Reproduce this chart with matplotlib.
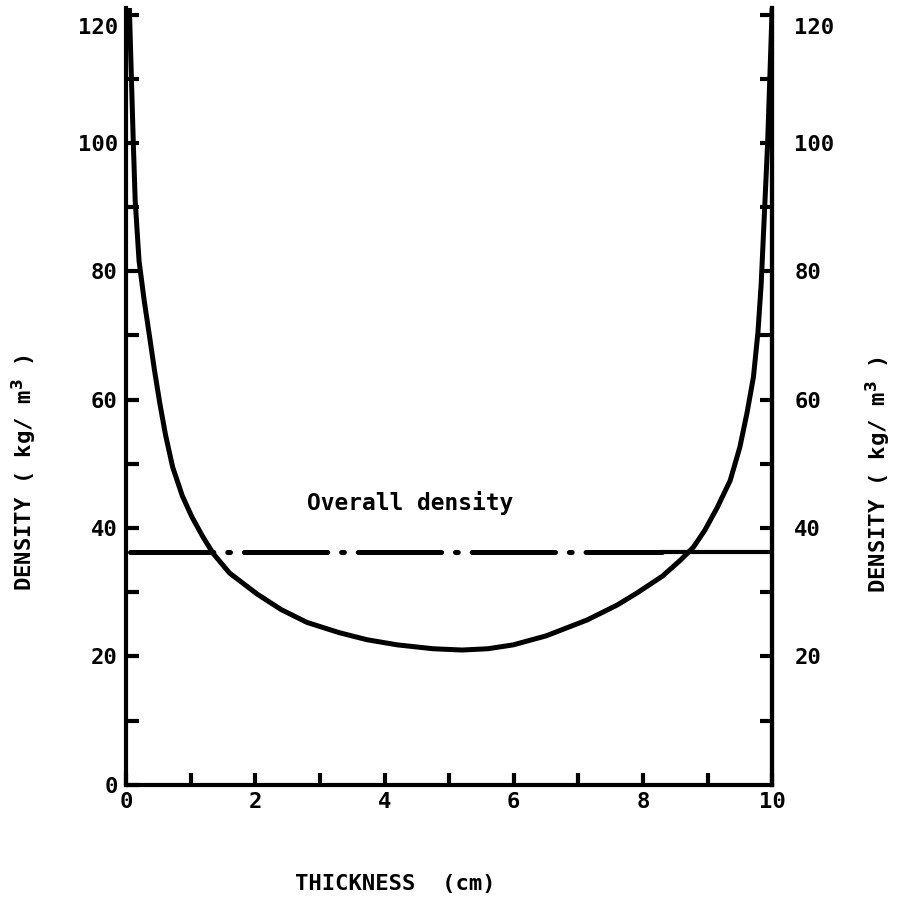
import matplotlib
matplotlib.use('Agg')
import matplotlib.pyplot as plt
import matplotlib.transforms as mtransforms

# density profile
thickness = [0.05, 0.11, 0.14, 0.2, 0.28, 0.36, 0.44, 0.52, 0.61, 0.72, 0.87, 1.02,
             1.19, 1.35, 1.6, 2.03, 2.4, 2.8, 3.3, 3.73, 4.2, 4.75, 5.2, 5.6,
             5.99, 6.5, 7.14, 7.6, 7.91, 8.3, 8.58, 8.78, 8.96, 9.15, 9.35, 9.5,
             9.61, 9.71, 9.78, 9.83, 9.88, 9.93, 10.0]
density = [121, 100.3, 91, 81.6, 75.4, 70.0, 64.5, 59.5, 54.5, 49.5, 45.0, 41.7,
           38.6, 36.0, 33.0, 29.7, 27.3, 25.3, 23.7, 22.6, 21.8, 21.2, 21.0, 21.2,
           21.8, 23.2, 25.7, 28.0, 29.9, 32.5, 35.0, 37.0, 39.7, 43.2, 47.4, 52.6,
           57.9, 63.5, 70.5, 78.0, 89.0, 100.0, 121]
overall = 36.3
overall_break = 8.3   # dash-dot ends here, solid after

xticks = [0, 2, 4, 6, 8, 10]
yticks_left = [0, 20, 40, 60, 80, 100, 120]
yticks_right = [20, 40, 60, 80, 100, 120]

plt.rcParams['font.family'] = ['DejaVu Sans Mono']
plt.rcParams['font.weight'] = 'bold'
plt.rcParams['lines.scale_dashes'] = False

fig = plt.figure(figsize=(9.01, 8.99), dpi=100)
ax = fig.add_axes([0.14, 0.127, 0.717, 0.864])
ax.set_xlim(0, 10)
ax.set_ylim(0, 121)

ax.plot(thickness, density, color='black', lw=3.6, solid_capstyle='round',
        solid_joinstyle='round')
ax.plot([0.06, overall_break], [overall, overall], color='black', lw=3.6,
        dashes=(60, 10, 2, 10), dash_capstyle='round')
ax.plot([overall_break, 10], [overall, overall], color='black', lw=3.0)

ax.text(4.4, 43.9, 'Overall density', ha='center', va='center', fontsize=16.5)

for s in ['left', 'right', 'bottom']:
    ax.spines[s].set_linewidth(3)
ax.spines['top'].set_visible(False)

ax.set_xticks(range(0, 11))
ax.set_xticklabels([str(v) if v in xticks else '' for v in range(0, 11)], fontsize=16)
ax.set_yticks(range(0, 121, 10))
ax.set_yticklabels([str(v) if v in yticks_left else '' for v in range(0, 121, 10)], fontsize=16)
ax.tick_params(direction='in', length=9, width=3)
ax.tick_params(axis='y', pad=6)
ax.tick_params(axis='x', pad=5)

ax2 = ax.twinx()
ax2.set_ylim(0, 121)
ax2.spines['top'].set_visible(False)
ax2.spines['right'].set_linewidth(3)
ax2.set_yticks(range(10, 121, 10))
ax2.set_yticklabels([str(v) if v in yticks_right else '' for v in range(10, 121, 10)], fontsize=16)
ax2.tick_params(direction='in', length=9, width=3, pad=16)

# the top labels sit a little below their tick in the original
shift = mtransforms.ScaledTranslation(0, -8 / 72, fig.dpi_scale_trans)
for lbl in ax.get_yticklabels() + ax2.get_yticklabels():
    if lbl.get_text() == '120':
        lbl.set_transform(lbl.get_transform() + shift)

fig.text(0.027, 0.475, 'DENSITY ( kg/ m$^3$ )', rotation=90, ha='center', va='center', fontsize=16)
fig.text(0.975, 0.472, 'DENSITY ( kg/ m$^3$ )', rotation=90, ha='center', va='center', fontsize=16)
fig.text(0.439, 0.017, 'THICKNESS  (cm)', ha='center', va='center', fontsize=16)

fig.savefig('out.png', dpi=100)
